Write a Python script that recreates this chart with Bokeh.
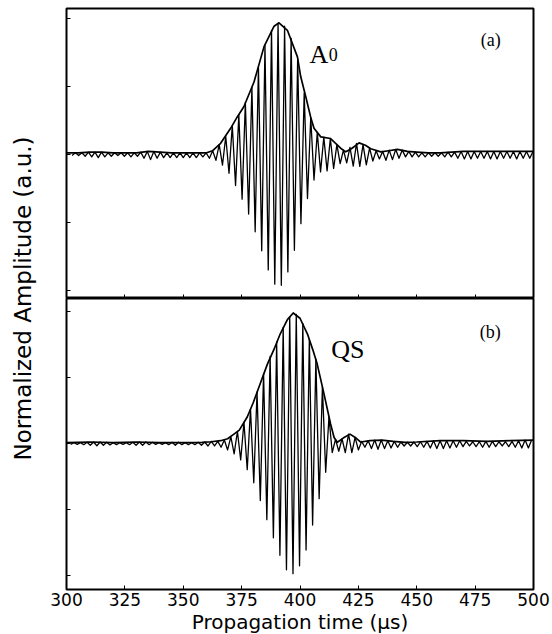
import numpy as np
from bokeh.plotting import figure
from bokeh.models import Range1d, FixedTicker, Label
from bokeh.layouts import row, column
from bokeh.embed import file_html
from bokeh.resources import INLINE

# ---------------- data ----------------
carrier_period_us = 2.8          # period of the tone-burst carrier
x_ticks = [300, 325, 350, 375, 400, 425, 450, 475, 500]
y_ticks = [-1.0, -0.5, 0.0, 0.5, 1.0]

# panel (a) A0 mode: trough / following-peak amplitude of every carrier cycle
a_first_trough_us = 302.4
a_troughs = [
    -0.01, -0.01, -0.015, -0.02, -0.025, -0.02, -0.015, -0.01, -0.015, -0.02,
    -0.015, -0.03, -0.04, -0.03, -0.025, -0.025, -0.025, -0.025, -0.025, -0.025,
    -0.02, -0.03, -0.045, -0.08, -0.14, -0.23, -0.33, -0.44, -0.57, -0.71,
    -0.85, -0.955, -0.963, -0.865, -0.706, -0.51, -0.326, -0.19, -0.13, -0.123,
    -0.105, -0.07, -0.064, -0.088, -0.09, -0.078, -0.05, -0.035, -0.045, -0.04,
    -0.03, -0.02, -0.02, -0.02, -0.02, -0.015, -0.015, -0.02, -0.02, -0.03,
    -0.035, -0.035, -0.03, -0.03, -0.035, -0.035, -0.03, -0.03, -0.035, -0.03,
    -0.03]
a_peaks = [
    0.01, 0.01, 0.015, 0.015, 0.015, 0.01, 0.01, 0.01, 0.01, 0.01,
    0.015, 0.02, 0.02, 0.015, 0.01, 0.01, 0.01, 0.01, 0.01, 0.01,
    0.01, 0.025, 0.07, 0.13, 0.21, 0.29, 0.38, 0.49, 0.64, 0.80,
    0.91, 0.96, 0.94, 0.85, 0.70, 0.45, 0.27, 0.16, 0.125, 0.115,
    0.07, 0.03, 0.05, 0.08, 0.07, 0.045, 0.025, 0.02, 0.03, 0.035,
    0.03, 0.02, 0.015, 0.01, 0.01, 0.01, 0.01, 0.015, 0.015, 0.02,
    0.02, 0.02, 0.02, 0.02, 0.02, 0.02, 0.02, 0.02, 0.02, 0.02,
    0.02]
a_env_t = [300, 305, 310, 315, 320, 325, 330, 335, 340, 345,
           350, 355, 360, 362.5, 366, 370.3, 373, 376, 380.3, 384.6,
           388.9, 391, 394.6, 398.9, 400.3, 402.5, 404.6, 406, 408.9, 413.1,
           417.4, 419.6, 422, 425.3, 428, 430.3, 434.6, 438, 441.7, 446,
           450, 455, 460, 465, 470, 475, 480, 485, 490, 495, 500]
a_env_v = [0.01, 0.01, 0.015, 0.015, 0.01, 0.01, 0.01, 0.02, 0.015, 0.01,
           0.01, 0.01, 0.01, 0.025, 0.08, 0.19, 0.27, 0.35, 0.53, 0.79,
           0.94, 0.965, 0.91, 0.715, 0.57, 0.42, 0.27, 0.19, 0.127, 0.115,
           0.044, 0.017, 0.04, 0.083, 0.065, 0.04, 0.017, 0.025, 0.035, 0.02,
           0.015, 0.01, 0.01, 0.015, 0.02, 0.02, 0.02, 0.02, 0.02, 0.02, 0.02]

# panel (b) QS mode
b_first_trough_us = 301.8
b_troughs = [
    -0.008, -0.008, -0.01, -0.015, -0.018, -0.015, -0.012, -0.01, -0.008, -0.01,
    -0.015, -0.015, -0.01, -0.008, -0.008, -0.01, -0.015, -0.01, -0.01, -0.01,
    -0.015, -0.02, -0.02, -0.03, -0.05, -0.08, -0.126, -0.20, -0.30, -0.434,
    -0.58, -0.717, -0.85, -0.96, -0.99, -0.93, -0.81, -0.62, -0.42, -0.22,
    -0.07, -0.06, -0.07, -0.07, -0.05, -0.03, -0.04, -0.045, -0.04, -0.035,
    -0.03, -0.02, -0.02, -0.025, -0.03, -0.035, -0.04, -0.04, -0.035, -0.03,
    -0.025, -0.02, -0.025, -0.03, -0.03, -0.025, -0.02, -0.025, -0.03, -0.035,
    -0.035]
b_peaks = [
    0.005, 0.005, 0.008, 0.01, 0.01, 0.008, 0.005, 0.005, 0.005, 0.008,
    0.01, 0.01, 0.008, 0.005, 0.005, 0.008, 0.008, 0.005, 0.005, 0.008,
    0.01, 0.015, 0.015, 0.025, 0.05, 0.09, 0.16, 0.26, 0.39, 0.53,
    0.66, 0.77, 0.88, 0.96, 0.98, 0.91, 0.79, 0.64, 0.43, 0.2,
    0.03, 0.035, 0.07, 0.045, 0.015, 0.02, 0.025, 0.025, 0.02, 0.015,
    0.01, 0.008, 0.01, 0.012, 0.015, 0.02, 0.02, 0.02, 0.02, 0.02,
    0.015, 0.012, 0.012, 0.015, 0.015, 0.012, 0.012, 0.015, 0.02, 0.025,
    0.025]
b_env_t = [300, 310, 320, 330, 340, 350, 358, 362, 366, 369,
           371.7, 374, 377.4, 380, 383.1, 386, 388.9, 391.5, 394.6, 397.1,
           400, 403.2, 405.5, 407.4, 410.3, 413.1, 414.6, 416, 418.5, 421.4,
           424, 426, 430, 435, 440, 445, 450, 460, 470, 480, 490, 500]
b_env_v = [0.005, 0.01, 0.005, 0.01, 0.005, 0.005, 0.008, 0.012, 0.02, 0.035,
           0.07, 0.1, 0.2, 0.31, 0.46, 0.6, 0.715, 0.83, 0.94, 0.99,
           0.95, 0.83, 0.71, 0.6, 0.374, 0.147, 0.045, 0.008, 0.04, 0.07,
           0.04, 0.01, 0.02, 0.025, 0.015, 0.008, 0.01, 0.02, 0.02, 0.015, 0.02, 0.025]


def wave(t0, troughs, peaks):
    half = carrier_period_us / 2.0
    t, v = [], []
    for i, (tr, pk) in enumerate(zip(troughs, peaks)):
        t.append(t0 + 2 * i * half)
        v.append(tr)
        t.append(t0 + (2 * i + 1) * half)
        v.append(pk)
    return t, v


FRAME_W = 467


def panel(y_lo, y_hi, frame_h, top, bottom_labels):
    p = figure(frame_width=FRAME_W, frame_height=frame_h,
               x_range=Range1d(300, 500), y_range=Range1d(y_lo, y_hi),
               output_backend="svg", toolbar_location=None,
               min_border_left=26, min_border_right=19,
               min_border_top=top, min_border_bottom=0)
    p.grid.visible = False
    p.outline_line_color = "black"
    p.outline_line_width = 2
    p.background_fill_color = "white"
    p.border_fill_color = "white"
    for ax in p.axis:
        ax.axis_line_color = None
        ax.major_tick_in = 4
        ax.major_tick_out = 0
        ax.major_tick_line_color = "black"
        ax.major_tick_line_width = 1
        ax.minor_tick_line_color = None
    p.xaxis.ticker = FixedTicker(ticks=x_ticks)
    p.yaxis.ticker = FixedTicker(ticks=y_ticks)
    p.yaxis.major_label_text_font_size = "0px"
    p.yaxis.major_label_standoff = 0
    if bottom_labels:
        p.xaxis.major_label_text_font = "DejaVu Sans"
        p.xaxis.major_label_text_font_size = "17px"
        p.xaxis.major_label_text_color = "black"
        p.xaxis.major_label_standoff = 3
        p.xaxis.axis_label = "Propagation time (μs)"
        p.xaxis.axis_label_text_font = "DejaVu Sans"
        p.xaxis.axis_label_text_font_size = "20px"
        p.xaxis.axis_label_text_font_style = "normal"
        p.xaxis.axis_label_text_color = "black"
        p.xaxis.axis_label_standoff = 1
    else:
        p.xaxis.major_label_text_font_size = "0px"
        p.xaxis.major_label_standoff = 0
    return p


pa = panel(-1.06, 1.07, 290, 8, False)
ta, va = wave(a_first_trough_us, a_troughs, a_peaks)
pa.line(ta, va, line_color="black", line_width=1.3, line_join="round")
pa.line(a_env_t, a_env_v, line_color="black", line_width=1.7, line_join="round")
pa.add_layout(Label(x=404.1, y=0.735, text="A", text_font="Liberation Serif",
                    text_font_size="26px", text_color="black", text_baseline="alphabetic"))
pa.add_layout(Label(x=412.3, y=0.735, text="0", text_font="Liberation Serif",
                    text_font_size="18px", text_color="black", text_baseline="alphabetic"))
pa.add_layout(Label(x=477.4, y=0.835, text="(a)", text_font="Liberation Serif",
                    text_font_size="18px", text_color="black", text_baseline="alphabetic"))

pb = panel(-1.11, 1.10, 291, 0, True)
tb, vb = wave(b_first_trough_us, b_troughs, b_peaks)
pb.line(tb, vb, line_color="black", line_width=1.3, line_join="round")
pb.line(b_env_t, b_env_v, line_color="black", line_width=1.7, line_join="round")
pb.add_layout(Label(x=413.4, y=0.71, text="QS", text_font="Liberation Serif",
                    text_font_size="26px", text_color="black", text_baseline="alphabetic"))
pb.add_layout(Label(x=477.0, y=0.843, text="(b)", text_font="Liberation Serif",
                    text_font_size="18px", text_color="black", text_baseline="alphabetic"))

# shared y-axis label
pl = figure(width=40, height=634, x_range=Range1d(0, 40), y_range=Range1d(0, 634),
            output_backend="svg", toolbar_location=None,
            x_axis_location=None, y_axis_location=None, min_border=0)
pl.grid.visible = False
pl.outline_line_color = None
pl.add_layout(Label(x=22, y=336, text="Normalized Amplitude (a.u.)", angle=np.pi / 2,
                    text_align="center", text_baseline="middle", text_font="DejaVu Sans",
                    text_font_size="23px", text_color="black"))

layout = row(pl, column(pa, pb, spacing=0), spacing=0)
open("out.html", "w").write(file_html(layout, INLINE))
